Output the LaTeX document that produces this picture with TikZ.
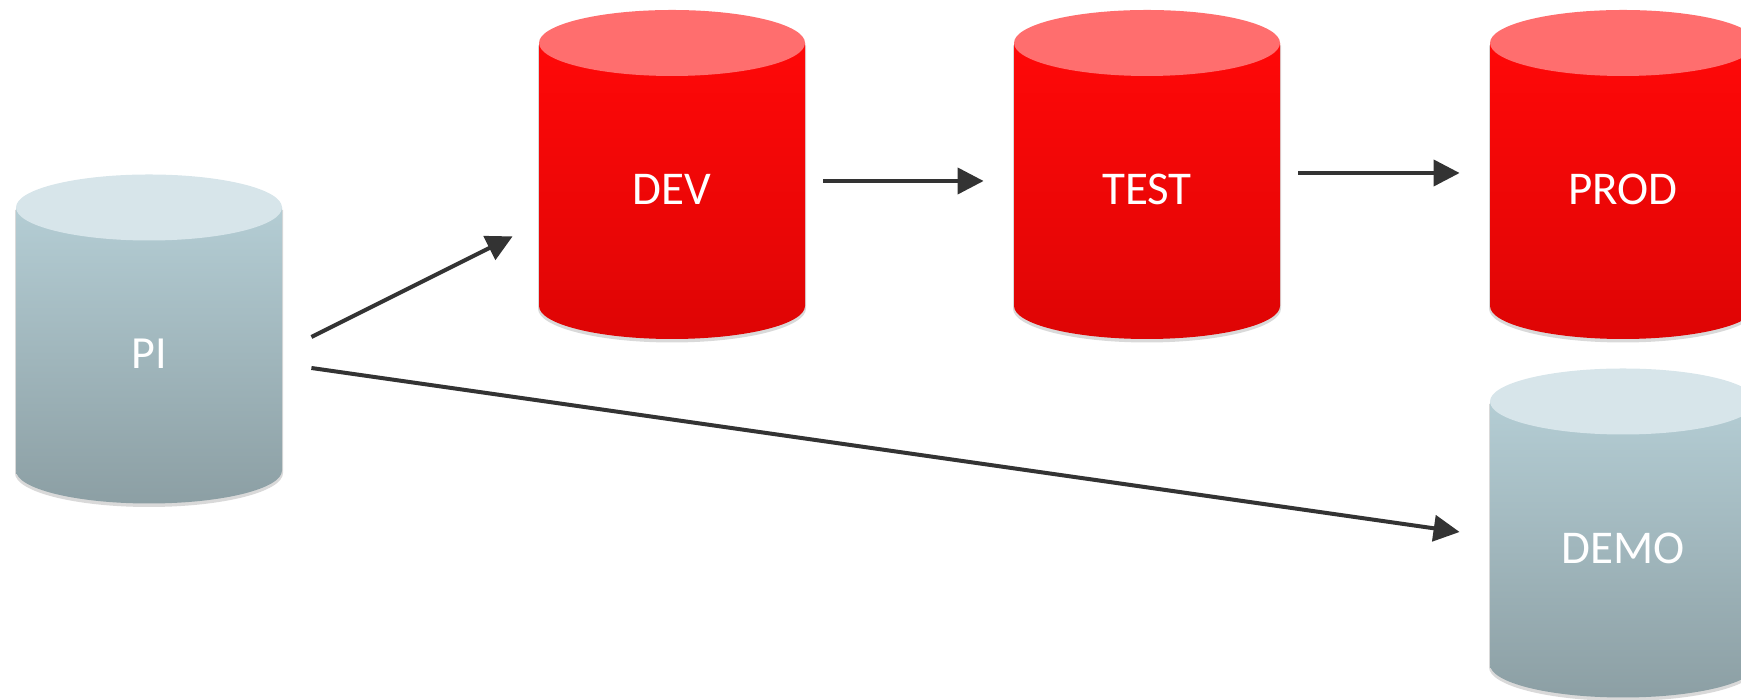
\documentclass[tikz,border=0pt]{standalone}
\usepackage{fontspec}
\setmainfont{Carlito}
\usetikzlibrary{arrows.meta}

\definecolor{redcap}{RGB}{255,110,110}
\definecolor{redhi}{RGB}{255,8,8}
\definecolor{redlo}{RGB}{222,5,5}
\definecolor{graycap}{RGB}{215,229,234}
\definecolor{grayhi}{RGB}{180,205,212}
\definecolor{graylo}{RGB}{140,159,164}
\definecolor{arrowgray}{RGB}{51,51,51}

\begin{document}
\begin{tikzpicture}[x=0.5pt,y=0.5pt,
  body/.style={minimum width=133pt,minimum height=131.5pt,inner sep=0pt},
  dbtext/.style={text=white,yshift=-7.5pt},
  conn/.style={-{Triangle[length=13pt,width=13pt]},line width=2pt,draw=arrowgray},
  gap/.style={shorten <=9pt,shorten >=15pt}]
\useasboundingbox (0,0) rectangle (1741,700);
\clip (0,0) rectangle (1741,700);

% database cylinders: name/x/y/colour/font size/label
\foreach \nm/\x/\y/\col/\fs/\txt in {pi/149/361/gray/23/PI,dev/672/525.5/red/23.5/DEV,
    test/1147/525.5/red/23.5/TEST,prod/1623/525.5/red/23.5/PROD,demo/1623/167/gray/23.5/DEMO}{
  \begin{scope}[shift={(\x,\y)}]
  \fill[black,opacity=.15] (-134,129) -- (-134,-134) arc[start angle=180,end angle=360,x radius=134,y radius=34] -- (134,129) -- cycle;
  \shade[top color=\col hi,bottom color=\col lo] (-133,131.5) -- (-133,-131.5)
    arc[start angle=180,end angle=360,x radius=133,y radius=33] -- (133,131.5) -- cycle;
  \fill[\col cap] (0,131.5) ellipse[x radius=133,y radius=33];
  \node[body,label={[dbtext,font=\fontsize{\fs}{\fs}\selectfont]center:\txt}] (\nm) at (0,0) {};
  \end{scope}
}

% copies
\draw[conn] ([shift={(14.5pt,1pt)}]pi.east) -- ([shift={(-13pt,35pt)}]dev.south west);
\draw[conn] ([shift={(14.5pt,-14.5pt)}]pi.east) -- ([shift={(-15pt,0.5pt)}]demo.west);
\draw[conn,gap] ([yshift=-3.25pt]dev.east) -- ([yshift=-3.25pt]test.west);
\draw[conn,gap] ([yshift=0.75pt]test.east) -- ([yshift=0.75pt]prod.west);
\end{tikzpicture}
\end{document}
